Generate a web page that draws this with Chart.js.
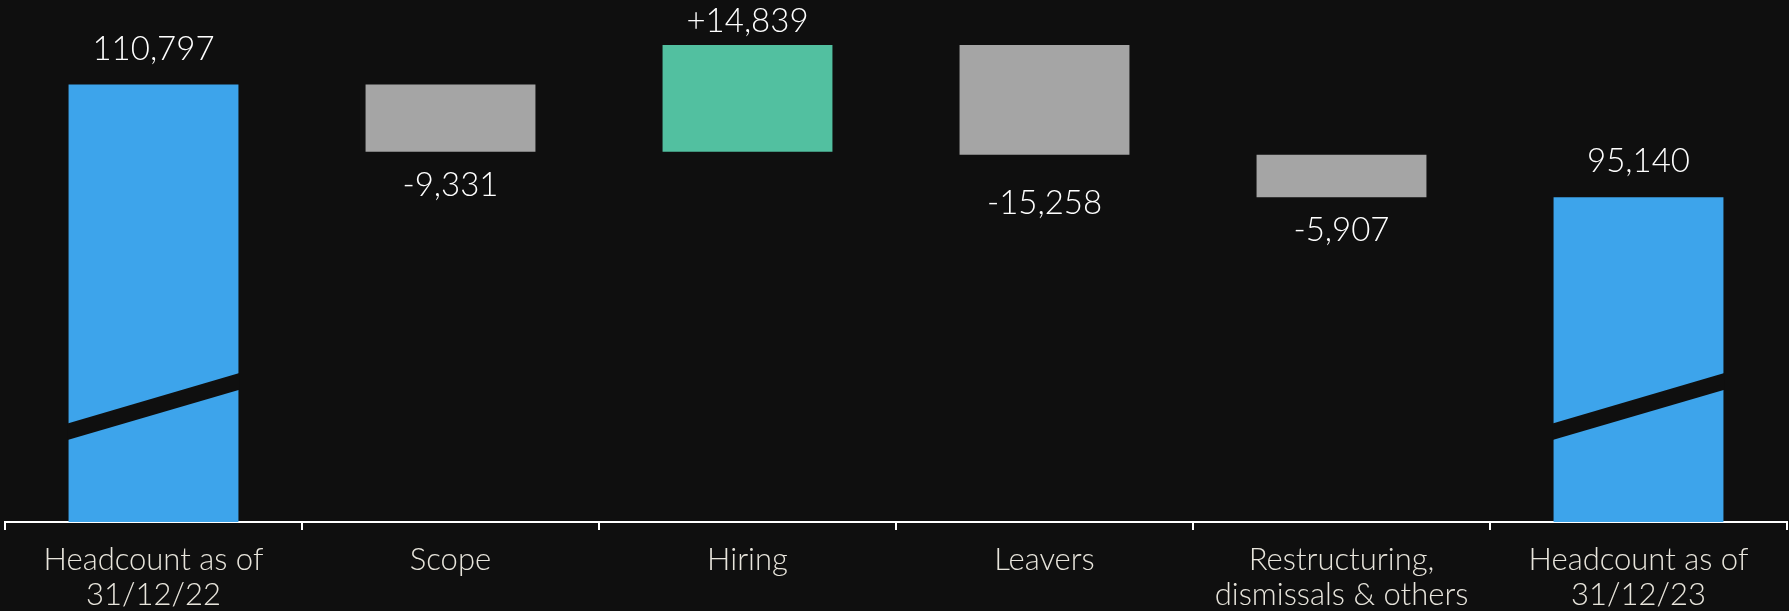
<!DOCTYPE html>
<html>
<head>
<meta charset="utf-8">
<script src="https://cdn.jsdelivr.net/npm/chart.js@4/dist/chart.umd.min.js"></script>
<style>
  html, body { margin: 0; padding: 0; background: #0f0f0f; }
  #wrap { width: 1789px; height: 611px; position: relative; }
</style>
</head>
<body>
<div id="wrap"><canvas id="c" width="1789" height="611"></canvas></div>
<script>
// ---- data ----
const categories = [
  ['Headcount as of', '31/12/22'],
  'Scope',
  'Hiring',
  'Leavers',
  ['Restructuring,', 'dismissals & others'],
  ['Headcount as of', '31/12/23']
];
const openingTotal = 110797;
const changes = [-9331, 14839, -15258, -5907];
const closingTotal = 95140;

// axis window (broken axis: bars are cut at the bottom)
const yMin = 50000;
const yMax = 122560;

// axis-break band on the total bars, in data units
const breakUpperLeft = 63700;
const breakUpperRight = 70700;
const breakGap = 2300;

// styling
const colTotal = '#3da4eb';
const colUp = '#52c0a0';
const colDown = '#a5a5a5';
const bg = '#0f0f0f';
const labelGapPx = [25, 44, 13, 59, 44, 25];

// ---- build waterfall ranges ----
const ranges = [];
const colors = [];
const kinds = [];
ranges.push([0, openingTotal]); colors.push(colTotal); kinds.push('total');
let running = openingTotal;
changes.forEach(ch => {
  const next = running + ch;
  ranges.push([Math.min(running, next), Math.max(running, next)]);
  colors.push(ch >= 0 ? colUp : colDown);
  kinds.push(ch >= 0 ? 'up' : 'down');
  running = next;
});
ranges.push([0, closingTotal]); colors.push(colTotal); kinds.push('total');
const labelValues = [openingTotal, ...changes, closingTotal];

function fmt(v, kind) {
  const s = Math.abs(v).toLocaleString('en-US');
  if (kind === 'total') return s;
  return (v >= 0 ? '+' : '-') + s;
}

const bgPlugin = {
  id: 'bg',
  beforeDraw(chart) {
    const ctx = chart.ctx;
    ctx.save();
    ctx.fillStyle = bg;
    ctx.fillRect(0, 0, chart.width, chart.height);
    ctx.restore();
  }
};

const decoPlugin = {
  id: 'deco',
  afterDatasetsDraw(chart) {
    const ctx = chart.ctx;
    const meta = chart.getDatasetMeta(0);
    const y = chart.scales.y;
    ctx.save();
    // axis break bands
    meta.data.forEach((bar, i) => {
      if (kinds[i] !== 'total') return;
      const l = bar.x - bar.width / 2 - 1;
      const r = bar.x + bar.width / 2 + 1;
      const ul = y.getPixelForValue(breakUpperLeft);
      const ur = y.getPixelForValue(breakUpperRight);
      const ll = y.getPixelForValue(breakUpperLeft - breakGap);
      const lr = y.getPixelForValue(breakUpperRight - breakGap);
      ctx.fillStyle = bg;
      ctx.beginPath();
      ctx.moveTo(l, ul);
      ctx.lineTo(r, ur);
      ctx.lineTo(r, lr);
      ctx.lineTo(l, ll);
      ctx.closePath();
      ctx.fill();
    });
    // value labels
    ctx.fillStyle = '#ffffff';
    ctx.font = '300 33px Lato, "Open Sans", sans-serif';
    ctx.textAlign = 'center';
    ctx.textBaseline = 'alphabetic';
    meta.data.forEach((bar, i) => {
      const top = Math.min(bar.y, bar.base);
      const bottom = Math.max(bar.y, bar.base);
      const text = fmt(labelValues[i], kinds[i]);
      if (kinds[i] === 'down') {
        ctx.fillText(text, bar.x, bottom + labelGapPx[i]);
      } else {
        ctx.fillText(text, bar.x, top - labelGapPx[i]);
      }
    });
    ctx.restore();
  }
};

new Chart(document.getElementById('c'), {
  type: 'bar',
  data: {
    labels: categories,
    datasets: [{
      data: ranges,
      backgroundColor: colors,
      borderWidth: 0,
      borderSkipped: false,
      categoryPercentage: 1,
      barPercentage: 0.572,
      clip: 0
    }]
  },
  options: {
    responsive: false,
    animation: false,
    devicePixelRatio: 1,
    layout: { padding: { left: 5, right: 2, top: 0, bottom: 0 } },
    plugins: {
      legend: { display: false },
      tooltip: { enabled: false },
      title: { display: false }
    },
    scales: {
      x: {
        grid: {
          display: true,
          offset: true,
          drawOnChartArea: false,
          drawTicks: true,
          tickLength: 8,
          color: '#ffffff',
          lineWidth: 2
        },
        border: { display: true, color: '#ffffff', width: 2 },
        ticks: {
          color: '#e8e5dc',
          padding: 12,
          maxRotation: 0,
          autoSkip: false,
          font: { family: 'Lato, "Open Sans", sans-serif', size: 31, weight: 300, lineHeight: 1.13 }
        },
        afterFit(scale) { scale.height = 89; }
      },
      y: {
        display: false,
        min: yMin,
        max: yMax
      }
    }
  },
  plugins: [bgPlugin, decoPlugin]
});
</script>
</body>
</html>
